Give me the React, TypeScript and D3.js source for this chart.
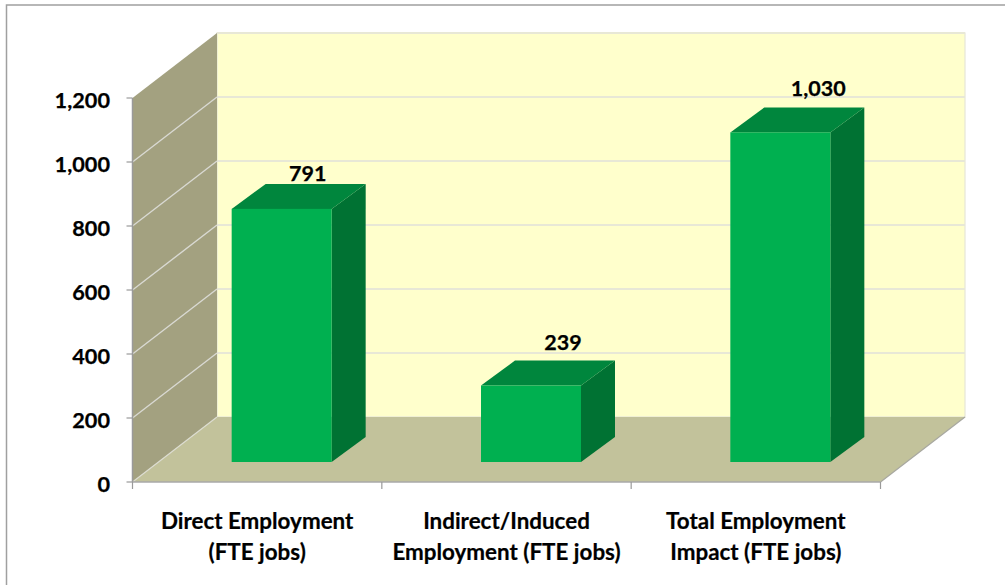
import React from "react";
import * as d3 from "d3";

// Employment impact by category, in FTE jobs
const categories = [
  ["Direct Employment", "(FTE jobs)"],
  ["Indirect/Induced", "Employment (FTE jobs)"],
  ["Total Employment", "Impact (FTE jobs)"],
];
const values = [791, 239, 1030];
const valueLabels = ["791", "239", "1,030"];
const yTicks = [0, 200, 400, 600, 800, 1000, 1200];

const WIDTH = 1005;
const HEIGHT = 585;
const FONT = "Lato, Carlito, sans-serif";

// Front plane of the 3D box
const x0 = 132.5;
const x1 = 880.5;
const yBase = 482;
const yTop = 98;
// Offset from the front plane to the back wall
const depthX = 84.5;
const depthY = -65;
// Bar placement inside the box
const barBaseShift = { x: 24.5, y: -20 };
const barDepth = { x: 34, y: -25 };
// Hand-placed value labels, measured from each bar's top-left front corner
const labelDx = [76, 82, 88];
const labelDy = [-28, -36, -36];

const y = d3.scaleLinear().domain([0, 1200]).range([yBase, yTop]);
const band = d3.scaleBand<number>().domain([0, 1, 2]).range([x0, x1]).padding(0).paddingInner(0);
const BAR_WIDTH = 100;

const poly = (pts: [number, number][]) => d3.line()(pts) + "Z";

export default function App() {
  const bw = band.bandwidth();
  return (
    <svg
      width={WIDTH}
      height={HEIGHT}
      viewBox={`0 0 ${WIDTH} ${HEIGHT}`}
      style={{ position: "absolute", left: 0, top: 0, display: "block", background: "#fff" }}
      fontFamily={FONT}
      fontWeight={700}
    >
      {/* chart frame */}
      <rect x={6.5} y={5} width={1100} height={700} fill="#fff" stroke="#a0a0a0" strokeWidth={1.5} />

      {/* back wall */}
      <rect x={x0 + depthX} y={yTop + depthY} width={x1 - x0} height={yBase - yTop} fill="#ffffcc" stroke="#e6e6d8" strokeWidth={1.2} />
      {yTicks.slice(1).map((t) => (
        <line key={t} x1={x0 + depthX} x2={x1 + depthX} y1={y(t) + depthY} y2={y(t) + depthY} stroke="#e8e8d6" strokeWidth={1.8} />
      ))}

      {/* side wall */}
      <path
        d={poly([
          [x0, yBase],
          [x0, yTop],
          [x0 + depthX, yTop + depthY],
          [x0 + depthX, yBase + depthY],
        ])}
        fill="#a3a180"
      />
      {yTicks.slice(1, -1).map((t) => (
        <line key={t} x1={x0} x2={x0 + depthX} y1={y(t)} y2={y(t) + depthY} stroke="#d9d9d2" strokeWidth={1.4} />
      ))}

      {/* floor */}
      <path
        d={poly([
          [x0, yBase],
          [x0 + depthX, yBase + depthY],
          [x1 + depthX, yBase + depthY],
          [x1, yBase],
        ])}
        fill="#c2c29b"
      />
      <line x1={x0} x2={x0 + depthX} y1={yBase} y2={yBase + depthY} stroke="#dcdcd0" strokeWidth={1.2} />
      <line x1={x1} x2={x1 + depthX} y1={yBase} y2={yBase + depthY} stroke="#a8a8a0" strokeWidth={1.2} />

      {/* bars */}
      {values.map((v, i) => {
        const left = band(i)! + (bw - BAR_WIDTH) / 2 + barBaseShift.x;
        const right = left + BAR_WIDTH;
        const bottom = y(0) + barBaseShift.y;
        const top = y(v) + barBaseShift.y;
        const dx = barDepth.x;
        const dy = barDepth.y;
        return (
          <g key={i}>
            <path
              d={poly([
                [right, bottom],
                [right, top],
                [right + dx, top + dy],
                [right + dx, bottom + dy],
              ])}
              fill="#007233"
            />
            <path
              d={poly([
                [left, top],
                [left + dx, top + dy],
                [right + dx, top + dy],
                [right, top],
              ])}
              fill="#00863d"
            />
            <rect x={left} y={top} width={BAR_WIDTH} height={bottom - top} fill="#00b050" />
            <text
              x={left + labelDx[i]}
              y={top + labelDy[i]}
              textAnchor="middle"
              fontSize={21.5}
              fill="#000"
              stroke="#000"
              strokeWidth={0.25}
            >
              {valueLabels[i]}
            </text>
          </g>
        );
      })}

      {/* axes */}
      <line x1={x0} x2={x0} y1={yTop} y2={yBase} stroke="#9a9a9a" strokeWidth={1.5} />
      <line x1={x0} x2={x1} y1={yBase} y2={yBase} stroke="#a8a8a8" strokeWidth={1.5} />
      {yTicks.map((t) => (
        <g key={t}>
          <line x1={x0 - 6} x2={x0} y1={y(t)} y2={y(t)} stroke="#9a9a9a" strokeWidth={1.2} />
          <text x={110} y={y(t) + 2} dy="0.36em" textAnchor="end" fontSize={21.7} fill="#000" stroke="#000" strokeWidth={0.25}>
            {d3.format(",")(t)}
          </text>
        </g>
      ))}
      {[0, 1, 2, 3].map((i) => {
        const tx = x0 + i * bw;
        return <line key={i} x1={tx} x2={tx} y1={yBase} y2={yBase + 7} stroke="#9a9a9a" strokeWidth={1.2} />;
      })}
      {categories.map((lines, i) => (
        <text key={i} textAnchor="middle" fontSize={22.4} fill="#000" stroke="#000" strokeWidth={0.2}>
          {lines.map((l, j) => (
            <tspan key={j} x={band(i)! + bw / 2} y={529 + j * 31}>
              {l}
            </tspan>
          ))}
        </text>
      ))}
    </svg>
  );
}
